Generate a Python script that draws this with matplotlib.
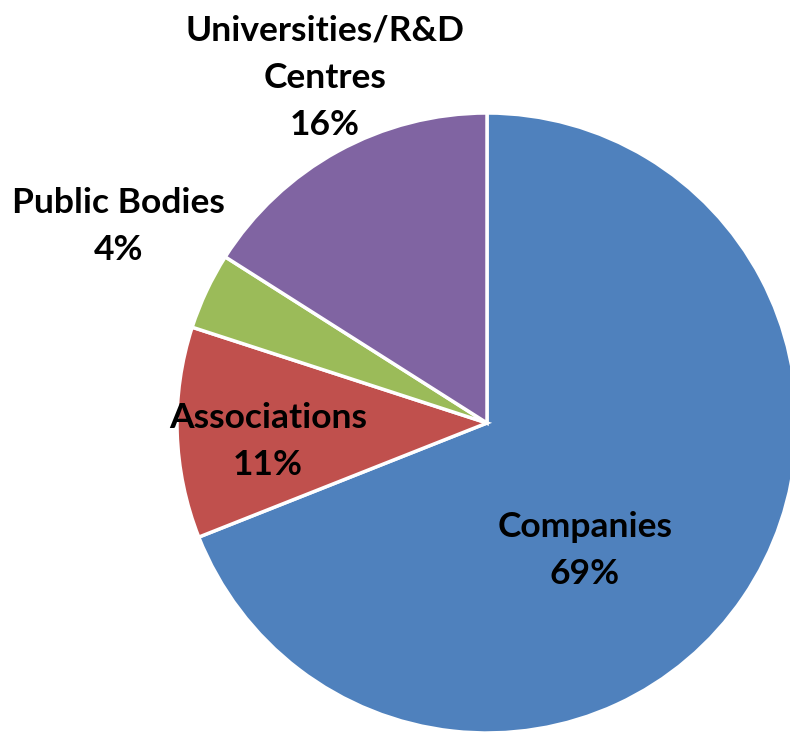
import matplotlib.pyplot as plt

# data
categories = ["Companies", "Associations", "Public Bodies", "Universities/R&D\nCentres"]
shares = [69, 11, 4, 16]
colors = ["#4F81BD", "#C0504D", "#9BBB59", "#8064A2"]

# label centres in data units (pie radius = 1)
label_pos = [(0.316, -0.41), (-0.706, -0.06), (-1.19, 0.635), (-0.523, 1.113)]

W, H = 790, 734
cx, cy, r = 487, 423, 310

fig = plt.figure(figsize=(W / 100, H / 100), dpi=100)
ax = fig.add_axes([0, 0, 1, 1])

ax.pie(shares, colors=colors, startangle=90, counterclock=False,
       radius=1.0, center=(0, 0),
       wedgeprops=dict(edgecolor="white", linewidth=2.5))

for name, val, (x, y) in zip(categories, shares, label_pos):
    ax.text(x, y, f"{name}\n{val}%", ha="center", va="center",
            fontsize=25.5, fontweight="bold", family="Lato",
            linespacing=1.58, color="black")

ax.set_xlim(-cx / r, (W - cx) / r)
ax.set_ylim(-(H - cy) / r, cy / r)
ax.set_aspect("equal")
ax.axis("off")

fig.savefig("out.png", dpi=100)
